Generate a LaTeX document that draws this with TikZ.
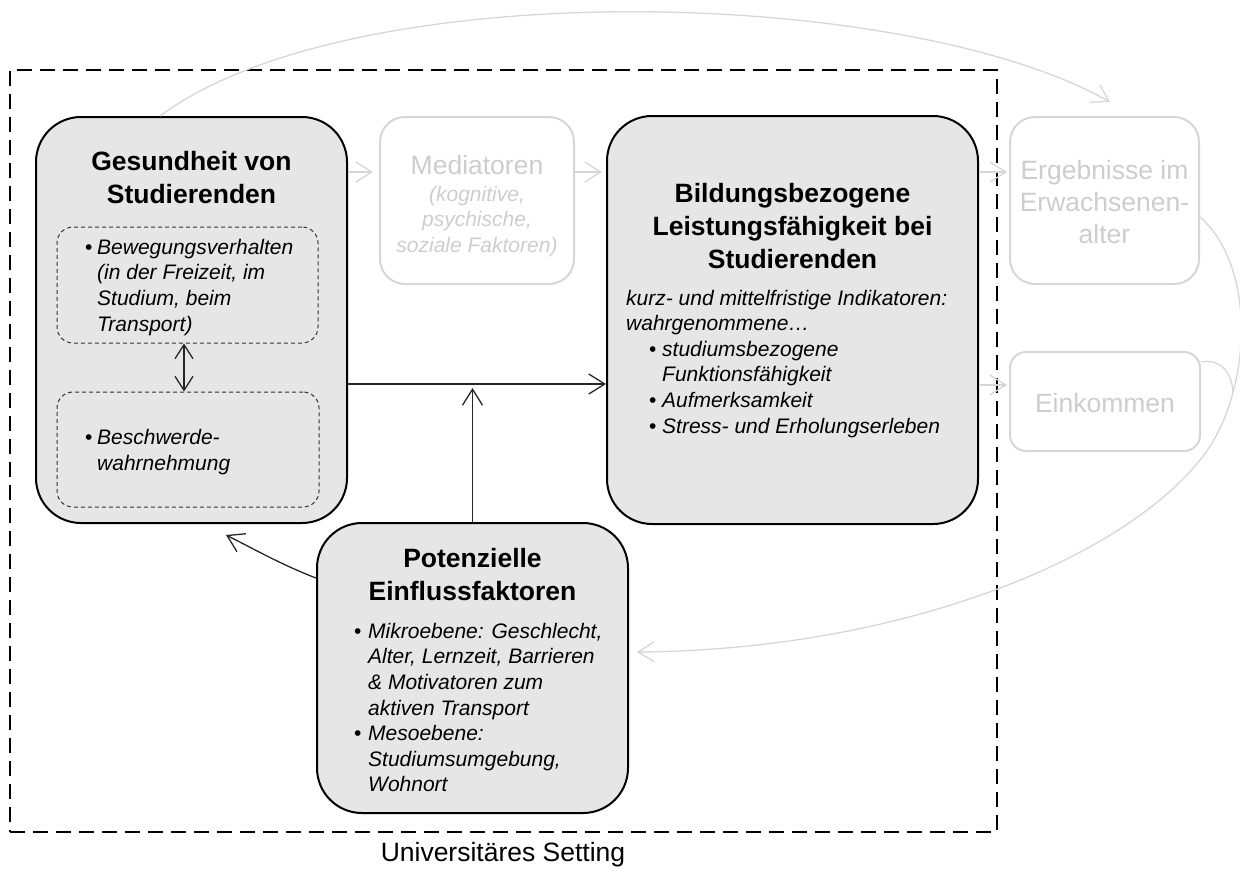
\documentclass[tikz,border=0pt]{standalone}
\usepackage{fontspec}
\setmainfont{Liberation Sans}
\usetikzlibrary{arrows.meta}
\definecolor{boxfill}{HTML}{E6E6E6}
\definecolor{fadeline}{HTML}{D6D6D6}
\definecolor{fadetext}{HTML}{CDCDCD}
\definecolor{linkgray}{HTML}{262626}
\newcommand{\itemdot}[1]{\makebox[#1][l]{\upshape\textbullet}}

\begin{document}
\begin{tikzpicture}[x=1pt,y=-1pt,
  darkbox/.style={draw=black, line width=2pt, fill=boxfill, rounded corners=45pt, inner sep=0pt},
  fadebox/.style={draw=fadeline, line width=2pt, rounded corners=#1, inner sep=0pt},
  subbox/.style={draw=black!80, line width=1pt, dash pattern=on 4pt off 3pt, rounded corners=16pt, inner sep=0pt},
  settingframe/.style={draw=black, line width=2.7pt, dash pattern=on 15pt off 8pt, inner sep=0pt},
  link/.style={draw=linkgray, line width=1.3pt, -{Straight Barb[length=16pt,width=20pt]}},
  fadelink/.style={draw=fadeline, line width=1.3pt, -{Straight Barb[length=16pt,width=20pt]}},
  headtext/.style={font=\fontsize{26.5}{33}\selectfont\bfseries, align=center, inner sep=0pt},
  fadehead/.style={font=\fontsize{26.5}{32}\selectfont, text=fadetext, align=center, inner sep=0pt},
  bodytext/.style={font=\fontsize{21}{25.6}\selectfont\itshape, align=left, inner sep=0pt},
]
\useasboundingbox (0,0) rectangle (1240,871);

% university setting frame
\node[settingframe, minimum width=987pt, minimum height=762pt] (setting) at (503.5,451) {};
\node[font=\fontsize{26.5}{32}\selectfont, inner sep=0pt] (settinglabel) at (503,855) {Universitäres Setting};

% main boxes
\node[darkbox, minimum width=311pt, minimum height=406pt] (ges) at (191.5,320) {};
\node[subbox, minimum width=261pt, minimum height=116pt] (gesA) at (187.5,285) {};
\node[subbox, minimum width=262pt, minimum height=115pt] (gesB) at (188,449.5) {};
\node[fadebox=25pt, minimum width=194pt, minimum height=167pt] (med) at (477,200.5) {};
\node[darkbox, minimum width=371pt, minimum height=408pt] (bild) at (792.5,320) {};
\node[fadebox=25pt, minimum width=189pt, minimum height=167pt] (erg) at (1104.5,200.5) {};
\node[fadebox=16pt, minimum width=190pt, minimum height=99pt] (eink) at (1105,401.5) {};
\node[darkbox, minimum width=311pt, minimum height=290pt] (pot) at (472.5,668) {};

% texts
\node[headtext] (gestitle) at (191.5,177.5) {Gesundheit von\\Studierenden};
\node[bodytext, anchor=west] (gesAtxt) at (85,287.5) {\begin{tabular}{@{}l@{}l@{}}
  \itemdot{12pt}&Bewegungsverhalten\\
  &(in der Freizeit, im\\
  &Studium, beim\\
  &Transport)\end{tabular}};
\node[bodytext, anchor=west] (gesBtxt) at (85,452.5) {\begin{tabular}{@{}l@{}l@{}}
  \itemdot{12pt}&Beschwerde-\\
  &wahrnehmung\end{tabular}};

\node[fadehead] (medtitle) at (477,165) {Mediatoren};
\node[bodytext, align=center, text=fadetext] (medtxt) at (477,221.5) {(kognitive,\\psychische,\\soziale Faktoren)};

\node[headtext] (bildtitle) at (792.5,226) {Bildungsbezogene\\Leistungsfähigkeit bei\\Studierenden};
\node[bodytext, anchor=west] (bildtxt) at (626,364) {\begin{tabular}{@{}l@{}l@{}}
  \multicolumn{2}{@{}l@{}}{kurz- und mittelfristige Indikatoren:}\\
  \multicolumn{2}{@{}l@{}}{wahrgenommene…}\\
  \hspace{23pt}\itemdot{13pt}&studiumsbezogene\\
  &Funktionsfähigkeit\\
  \hspace{23pt}\itemdot{13pt}&Aufmerksamkeit\\
  \hspace{23pt}\itemdot{13pt}&Stress- und Erholungserleben\end{tabular}};

\node[fadehead] (ergtxt) at (1104.5,202) {Ergebnisse im\\Erwachsenen-\\alter};
\node[fadehead] (einktxt) at (1105,403) {Einkommen};

\node[headtext] (pottitle) at (472.5,575) {Potenzielle\\Einflussfaktoren};
\node[bodytext, anchor=west] (pottxt) at (354,710) {\begin{tabular}{@{}l@{}l@{}}
  \itemdot{14pt}&Mikroebene: Geschlecht,\\
  &Alter, Lernzeit, Barrieren\\
  &\& Motivatoren zum\\
  &aktiven Transport\\
  \itemdot{14pt}&Mesoebene:\\
  &Studiumsumgebung,\\
  &Wohnort\end{tabular}};

% connectors inside the setting
\coordinate (mainjoin) at (472.5,388);
\draw[link] ([yshift=-64pt]ges.east) -- ([yshift=-64pt]bild.west);
\draw[link] (pot.north) -- (mainjoin);
\draw[draw=linkgray, line width=1.3pt, {Straight Barb[length=14pt,width=18pt]}-{Straight Barb[length=14pt,width=18pt]}]
  ([xshift=-3.5pt]gesA.south) -- ([xshift=-4pt]gesB.north);
\draw[link] ([yshift=90pt]pot.west) .. controls (282,565) and (252,548) .. ([xshift=34.5pt,yshift=-11pt]ges.south);

% faded pathway
\draw[fadelink] ([yshift=148pt]ges.east) -- ([xshift=-6pt,yshift=28.5pt]med.west);
\draw[fadelink] ([yshift=28.5pt]med.east) -- ([xshift=-4pt,yshift=148pt]bild.west);
\draw[fadelink] ([yshift=148pt]bild.east) -- ([xshift=-2pt,yshift=28.5pt]erg.west);
\draw[fadelink] ([yshift=-65pt]bild.east) -- ([xshift=-2pt,yshift=16.5pt]eink.west);
\draw[fadelink] ([xshift=-31.5pt]ges.north) .. controls (352,-27) and (905,-14) .. ([xshift=5.5pt,yshift=14pt]erg.north);
\draw[fadelink] ([yshift=-16.5pt]erg.east) .. controls (1260,270) and (1250,400) .. (1200,460)
  .. controls (1120,560) and (900,650) .. ([xshift=8pt,yshift=16pt]pot.east);
\coordinate (einkjoin) at (1233,392);
\draw[draw=fadeline, line width=1.3pt] ([yshift=39.5pt]eink.east) .. controls (1222,358) and (1232,375) .. (einkjoin);
\end{tikzpicture}
\end{document}
